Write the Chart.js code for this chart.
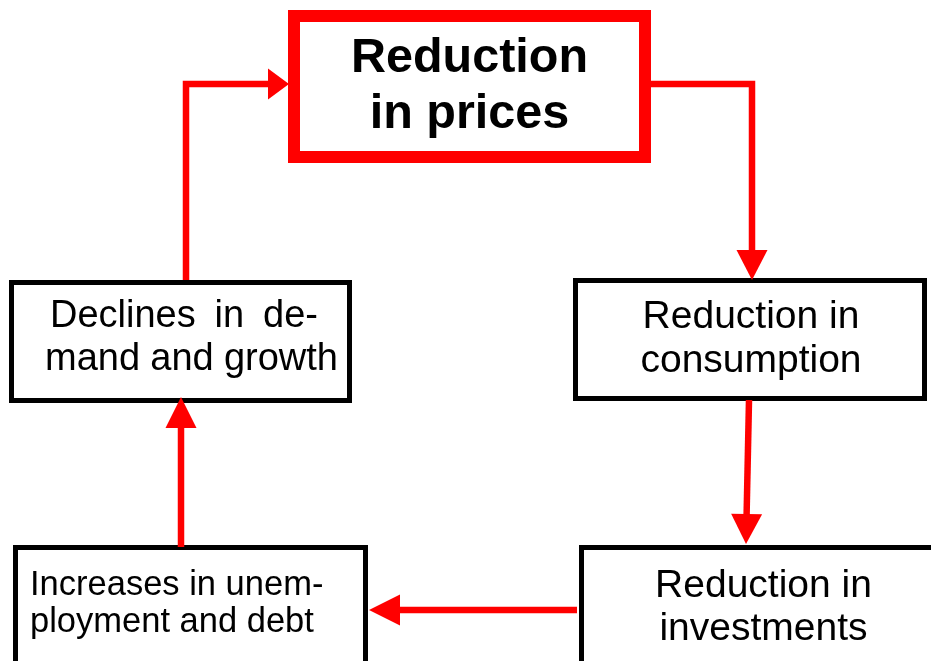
<!DOCTYPE html>
<html><head><meta charset="utf-8">
<script src="https://cdn.jsdelivr.net/npm/chart.js@4/dist/chart.umd.min.js"></script>
<style>html,body{margin:0;padding:0;background:#fff;overflow:hidden}canvas{display:block}</style>
</head><body><canvas id="c" width="931" height="661"></canvas>
<script>
// ---- content (diagram nodes, in cycle order) ----
const nodeLines = [
  ['Reduction', 'in prices'],
  ['Reduction in', 'consumption'],
  ['Reduction in', 'investments'],
  ['Increases in unem-', 'ployment and debt'],
  ['Declines in de-', 'mand and growth']
];
// arrows: from node index -> to node index
const arrowFrom = [0, 1, 2, 3, 4];
const arrowTo   = [1, 2, 3, 4, 0];

// ---- layout (diagram coordinate system: x 0..931, y 0..661 downward) ----
const boxX1 = [294, 575.5, 581.5, 15.5, 11.5];
const boxX2 = [645, 924.5, 1000, 365.5, 349.5];
const boxY1 = [16, 280.5, 547.5, 547.5, 282.5];
const boxY2 = [157, 398.5, 720, 720, 400.5];
const boxLineWidth = [12, 5, 5, 5, 5];
const boxColor = ['#ff0000', '#000000', '#000000', '#000000', '#000000'];
const textFont = ['bold 48.5px "Liberation Sans", Arial, sans-serif',
  '39px "Liberation Sans", Arial, sans-serif',
  '39px "Liberation Sans", Arial, sans-serif',
  '34.5px "Liberation Sans", Arial, sans-serif',
  '38px "Liberation Sans", Arial, sans-serif'];
const textAlign = ['center', 'center', 'center', 'left', 'justify'];
const textX = [[469.5, 469.5], [751, 751], [763.5, 763.5], [30, 30], [50, 45]];
const textXEnd = [null, null, null, null, [318, 338]];
const textBaselines = [[72, 128], [328, 372], [597, 640], [595, 632], [327, 370]];

// arrow polylines (last point = arrowhead tip)
const arrowPaths = [
  [[651, 84], [752, 84], [752, 280]],
  [[749, 400], [746, 544]],
  [[577, 610], [369, 610]],
  [[181, 547], [181, 397]],
  [[186, 280], [186, 84], [289, 84]]
];
const arrowWidth = 6.5;
const headLength = [30, 30, 31, 31, 21];
const headHalf = 15.5;
const red = '#ff0000';

function shaftPoints(path, hl) {
  const pts = path.map(p => ({x: p[0], y: p[1]}));
  const n = pts.length;
  const a = pts[n - 2], b = pts[n - 1];
  const dx = b.x - a.x, dy = b.y - a.y, L = Math.hypot(dx, dy);
  pts[n - 1] = {x: b.x - dx / L * (hl - 1), y: b.y - dy / L * (hl - 1)};
  return pts;
}

const datasets = arrowPaths.map((p, i) => ({
  label: 'arrow ' + arrowFrom[i] + '->' + arrowTo[i],
  data: shaftPoints(p, headLength[i]),
  showLine: true,
  borderColor: red,
  backgroundColor: red,
  borderWidth: arrowWidth,
  borderCapStyle: 'butt',
  borderJoinStyle: 'miter',
  pointRadius: 0,
  fill: false,
  tension: 0
}));

const boxPlugin = {
  id: 'boxes',
  beforeDatasetsDraw(chart) {
    const ctx = chart.ctx, xs = chart.scales.x, ys = chart.scales.y;
    ctx.save();
    for (let i = 0; i < nodeLines.length; i++) {
      const x1 = xs.getPixelForValue(boxX1[i]), x2 = xs.getPixelForValue(boxX2[i]);
      const y1 = ys.getPixelForValue(boxY1[i]), y2 = ys.getPixelForValue(boxY2[i]);
      ctx.fillStyle = '#ffffff';
      ctx.fillRect(x1, y1, x2 - x1, y2 - y1);
      ctx.lineWidth = boxLineWidth[i];
      ctx.strokeStyle = boxColor[i];
      ctx.lineJoin = 'miter';
      ctx.strokeRect(x1, y1, x2 - x1, y2 - y1);
      ctx.fillStyle = '#000000';
      ctx.font = textFont[i];
      ctx.textBaseline = 'alphabetic';
      const lines = nodeLines[i];
      lines.forEach((line, k) => {
        const y = ys.getPixelForValue(textBaselines[i][k]);
        const tx = xs.getPixelForValue(textX[i][k]);
        if (textAlign[i] === 'justify') {
          const target = xs.getPixelForValue(textXEnd[i][k]) - tx;
          const words = line.split(' ');
          const wsum = words.reduce((s, w) => s + ctx.measureText(w).width, 0);
          const gap = words.length > 1 ? (target - wsum) / (words.length - 1) : 0;
          let x = tx;
          ctx.textAlign = 'left';
          words.forEach(w => { ctx.fillText(w, x, y); x += ctx.measureText(w).width + gap; });
        } else {
          ctx.textAlign = textAlign[i];
          ctx.fillText(line, tx, y);
        }
      });
    }
    ctx.restore();
  },
  afterDatasetsDraw(chart) {
    const ctx = chart.ctx, xs = chart.scales.x, ys = chart.scales.y;
    ctx.save();
    ctx.fillStyle = red;
    arrowPaths.forEach((p, i) => {
      const n = p.length;
      const ax = xs.getPixelForValue(p[n - 2][0]), ay = ys.getPixelForValue(p[n - 2][1]);
      const bx = xs.getPixelForValue(p[n - 1][0]), by = ys.getPixelForValue(p[n - 1][1]);
      const dx = bx - ax, dy = by - ay, L = Math.hypot(dx, dy);
      const ux = dx / L, uy = dy / L;
      const cx = bx - ux * headLength[i], cy = by - uy * headLength[i];
      ctx.beginPath();
      ctx.moveTo(bx, by);
      ctx.lineTo(cx - uy * headHalf, cy + ux * headHalf);
      ctx.lineTo(cx + uy * headHalf, cy - ux * headHalf);
      ctx.closePath();
      ctx.fill();
    });
    ctx.restore();
  }
};

new Chart(document.getElementById('c'), {
  type: 'scatter',
  data: { datasets },
  options: {
    responsive: false,
    animation: false,
    layout: { padding: 0 },
    plugins: { legend: { display: false }, tooltip: { enabled: false } },
    scales: {
      x: { type: 'linear', min: 0, max: 931, display: false },
      y: { type: 'linear', min: 0, max: 661, reverse: true, display: false }
    }
  },
  plugins: [boxPlugin]
});
</script>
</body></html>
